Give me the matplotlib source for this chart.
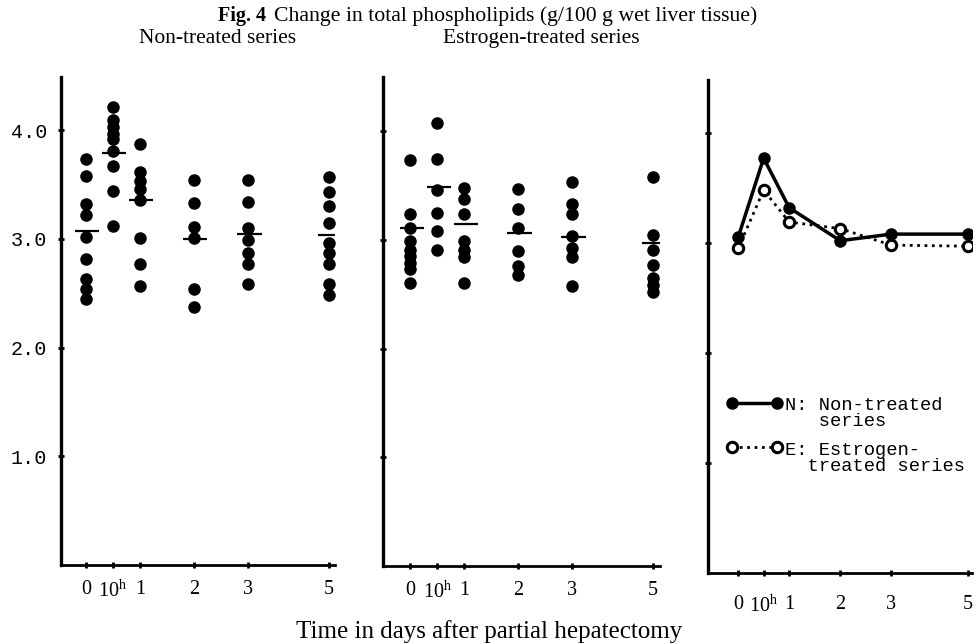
import numpy as np
import matplotlib
matplotlib.use("Agg")
import matplotlib.pyplot as plt
from matplotlib.legend_handler import HandlerLine2D

plt.rcParams['mathtext.fontset'] = 'stix'

# time points (days after partial hepatectomy)
days = ['0', '10$^{\\rm h}$', '1', '2', '3', '5']

# individual values, g/100 g wet liver tissue
non_treated = [
	[3.74, 3.58, 3.32, 3.22, 3.02, 2.82, 2.63, 2.54, 2.45],
	[4.21, 4.09, 4.03, 3.97, 3.92, 3.81, 3.67, 3.44, 3.12],
	[3.87, 3.62, 3.53, 3.46, 3.36, 3.01, 2.77, 2.57],
	[3.54, 3.33, 3.11, 3.01, 2.54, 2.37],
	[3.54, 3.34, 3.10, 2.99, 2.87, 2.77, 2.59],
	[3.57, 3.43, 3.30, 3.15, 2.96, 2.87, 2.77, 2.59, 2.48],
]
non_treated_mean = [3.07, 3.79, 3.36, 3.00, 3.05, 3.04]

estrogen = [
	[3.74, 3.24, 3.11, 2.99, 2.91, 2.85, 2.79, 2.73, 2.60],
	[4.08, 3.75, 3.46, 3.25, 3.08, 2.91],
	[3.48, 3.38, 3.24, 2.99, 2.91, 2.84, 2.60],
	[3.47, 3.29, 3.11, 2.90, 2.76, 2.68],
	[3.53, 3.33, 3.24, 3.04, 2.93, 2.84, 2.58],
	[3.58, 3.05, 2.91, 2.77, 2.65, 2.59, 2.52],
]
estrogen_mean = [3.11, 3.49, 3.15, 3.06, 3.03, 2.97]

# summary curves (right panel)
curve_N = [3.05, 3.77, 3.32, 3.02, 3.08, 3.08]
curve_E = [2.95, 3.48, 3.19, 3.13, 2.98, 2.97]

# x positions of the time points on the drawn axis
xpos = [0, 0.5, 1, 2, 3, 4.5]

SERIF = 'Liberation Serif'
MONO = 'Liberation Mono'


class TopLineHandler(HandlerLine2D):
	# put the legend line next to the first line of a two-line label
	def create_artists(self, legend, orig_handle, xdescent, ydescent,
					width, height, fontsize, trans):
		return super().create_artists(legend, orig_handle, xdescent,
					ydescent - 1.2 * fontsize, width, height, fontsize, trans)


def style_axis(ax, xlim, ylim, ylabels):
	ax.set_xlim(*xlim)
	ax.set_ylim(*ylim)
	for s in ['top', 'right']:
		ax.spines[s].set_visible(False)
	ax.spines['left'].set_linewidth(2.4)
	ax.spines['bottom'].set_linewidth(2.0)
	ax.set_xticks(xpos)
	ax.set_xticklabels(days, family=SERIF, fontsize=14.5)
	ax.set_yticks([1, 2, 3, 4])
	if ylabels:
		ax.set_yticklabels(['1.0', '2.0', '3.0', '4.0'], family=MONO, fontsize=14.5)
	else:
		ax.set_yticklabels([])
	ax.tick_params(axis='both', direction='inout', length=4, width=2)
	ax.tick_params(axis='x', pad=9)
	ax.tick_params(axis='y', pad=8)


def scatter_panel(ax, groups, means):
	for x, vals, m in zip(xpos, groups, means):
		ax.plot([x] * len(vals), vals, 'o', color='black', markersize=8,
				linestyle='none')
		ax.hlines(m, x - 0.2, x + 0.25, color='black', linewidth=1.6)


fig = plt.figure(figsize=(9.79, 6.44), dpi=100)

ax1 = fig.add_axes([0.0623, 0.1227, 0.2799, 0.7577])
scatter_panel(ax1, non_treated, non_treated_mean)
style_axis(ax1, (-0.46, 4.61), (0, 4.49), True)

ax2 = fig.add_axes([0.3912, 0.1211, 0.2830, 0.7593])
scatter_panel(ax2, estrogen, estrogen_mean)
style_axis(ax2, (-0.51, 4.63), (0, 4.5), False)

ax3 = fig.add_axes([0.7232, 0.1102, 0.2696, 0.7655])
lN, = ax3.plot(xpos, curve_N, '-o', color='black', linewidth=2.5,
			markersize=8, markerfacecolor='black')
lE, = ax3.plot(xpos, curve_E, ':o', color='black', linewidth=2.0,
			markersize=7.5, markerfacecolor='white', markeredgewidth=2.2)
style_axis(ax3, (-0.59, 4.58), (0, 4.48), False)
ax3.tick_params(axis='x', pad=14)

leg = ax3.legend([lN, lE], ['N: Non-treated\n   series', 'E: Estrogen-\n  treated series'],
			loc='upper left', bbox_to_anchor=(0.04, 0.372), frameon=False,
			prop={'family': MONO, 'size': 13.5}, handlelength=3.0, numpoints=2,
			handletextpad=0.15, labelspacing=0.6, borderaxespad=0,
			handler_map={lN: TopLineHandler(), lE: TopLineHandler()})
for t in leg.get_texts():
	t.set_linespacing(0.95)

fig.text(0.223, 0.99, 'Fig. 4', fontsize=14.5, family=SERIF, weight='bold', va='top')
fig.text(0.28, 0.99, 'Change in total phospholipids (g/100 g wet liver tissue)',
		fontsize=15.7, family=SERIF, va='top')
fig.text(0.222, 0.955, 'Non-treated series', fontsize=15.5, family=SERIF, va='top',
		ha='center')
fig.text(0.553, 0.955, 'Estrogen-treated series', fontsize=15.5, family=SERIF, va='top',
		ha='center')
fig.text(0.5, 0.019, 'Time in days after partial hepatectomy', fontsize=18,
		family=SERIF, ha='center', va='center')

fig.savefig('out.png', dpi=100)
